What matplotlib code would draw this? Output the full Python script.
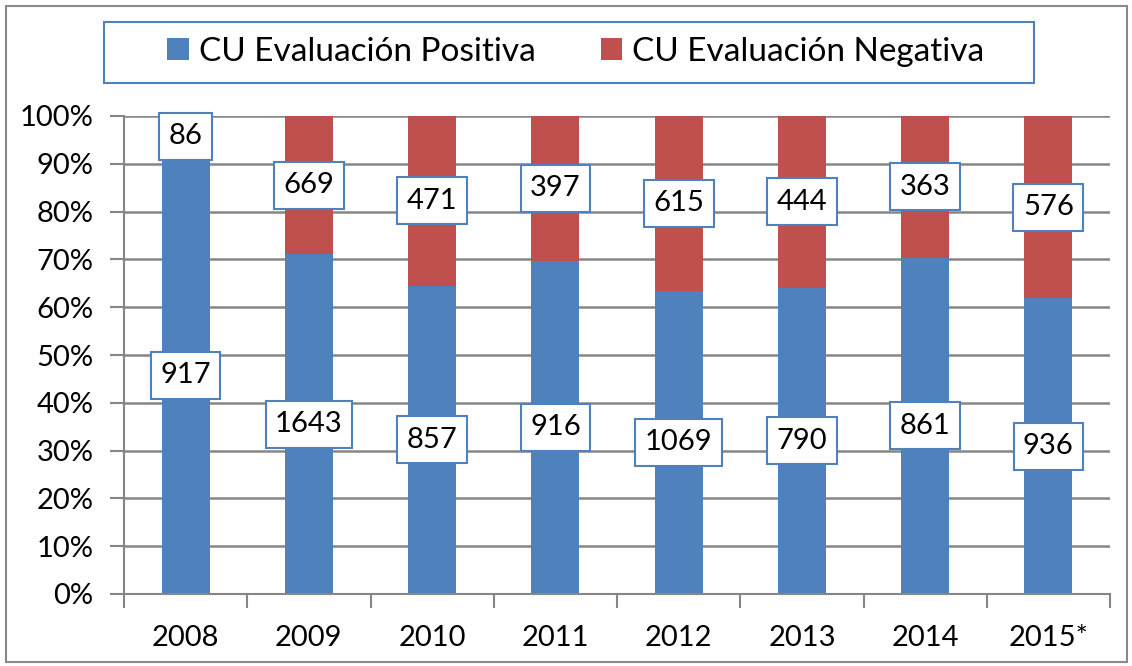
import matplotlib.pyplot as plt
import matplotlib.patches as mpatches
from matplotlib.path import Path
import numpy as np

plt.rcParams['font.family'] = ['Lato', 'DejaVu Sans']

years = ["2008", "2009", "2010", "2011", "2012", "2013", "2014", "2015*"]
positiva = [917, 1643, 857, 916, 1069, 790, 861, 936]
negativa = [86, 669, 471, 397, 615, 444, 363, 576]
series_names = ["CU Evaluación Positiva", "CU Evaluación Negativa"]

blue = "#4F81BD"
red = "#C0504D"
grid = "#868686"

pos = np.array(positiva, dtype=float)
neg = np.array(negativa, dtype=float)
tot = pos + neg
pos_pct = pos / tot * 100
neg_pct = neg / tot * 100
x = np.arange(len(years))


def label_box(x0, y0, width, height, mutation_size):
    # fixed 47px tall box, ~9.5px side padding (like the Excel data labels)
    cx = x0 + width / 2
    cy = y0 + height / 2
    w = width / 2 + 9.5
    h = 23.5
    return Path([(cx - w, cy - h), (cx + w, cy - h), (cx + w, cy + h),
                 (cx - w, cy + h), (cx - w, cy - h)], closed=True)


fig = plt.figure(figsize=(11.32, 6.66), dpi=100)
ax = fig.add_axes([124 / 1132, 1 - 594 / 666, (1110 - 124) / 1132, (594 - 116) / 666])

ax.bar(x, pos_pct, width=0.39, color=blue, label=series_names[0], zorder=2)
ax.bar(x, neg_pct, width=0.39, bottom=pos_pct, color=red, label=series_names[1], zorder=2)

box = dict(boxstyle=label_box, fc="white", ec=blue, lw=1.5)
for i in range(len(years)):
    ax.text(x[i], pos_pct[i] / 2, str(positiva[i]), ha="center", va="center",
            fontsize=21, bbox=box, zorder=3)
    ax.text(x[i], pos_pct[i] + neg_pct[i] / 2, str(negativa[i]), ha="center", va="center",
            fontsize=21, bbox=box, zorder=3)

ax.set_xlim(-0.5, len(years) - 0.5)
ax.set_ylim(0, 100)
ax.set_yticks(np.arange(0, 101, 10))
ax.set_yticklabels([f"{v}%" for v in range(0, 101, 10)], fontsize=21)
ax.set_xticks(x)
ax.set_xticklabels(years, fontsize=21)
ax.set_xticks(np.arange(-0.5, len(years), 1), minor=True)
ax.tick_params(axis="x", which="major", length=0, pad=22)
ax.tick_params(axis="x", which="minor", length=10, width=1.5, color=grid)
ax.tick_params(axis="y", length=10, width=1.5, color=grid, pad=12)
ax.yaxis.grid(True, color=grid, lw=1.8, zorder=0)
ax.set_axisbelow(True)
for s in ["top", "right"]:
    ax.spines[s].set_visible(False)
for s in ["left", "bottom"]:
    ax.spines[s].set_color(grid)
    ax.spines[s].set_linewidth(1.5)

# legend frame + entries
fig.patches.append(mpatches.Rectangle((104 / 1132, 1 - 83 / 666), 930 / 1132, 61 / 666,
                                      transform=fig.transFigure, fc="white", ec=blue, lw=1.5))
fig.legend(loc="center", bbox_to_anchor=(576 / 1132, 1 - 52 / 666), ncol=2, frameon=False,
           fontsize=24, handlelength=0.65, handleheight=0.65, handletextpad=0.3,
           columnspacing=1.95)

# outer border
fig.patches.append(mpatches.Rectangle((6 / 1132, 4 / 666), 1121 / 1132, 656 / 666,
                                      transform=fig.transFigure, fill=False, ec="#898989", lw=1.5))

fig.savefig("out.png", dpi=100)
